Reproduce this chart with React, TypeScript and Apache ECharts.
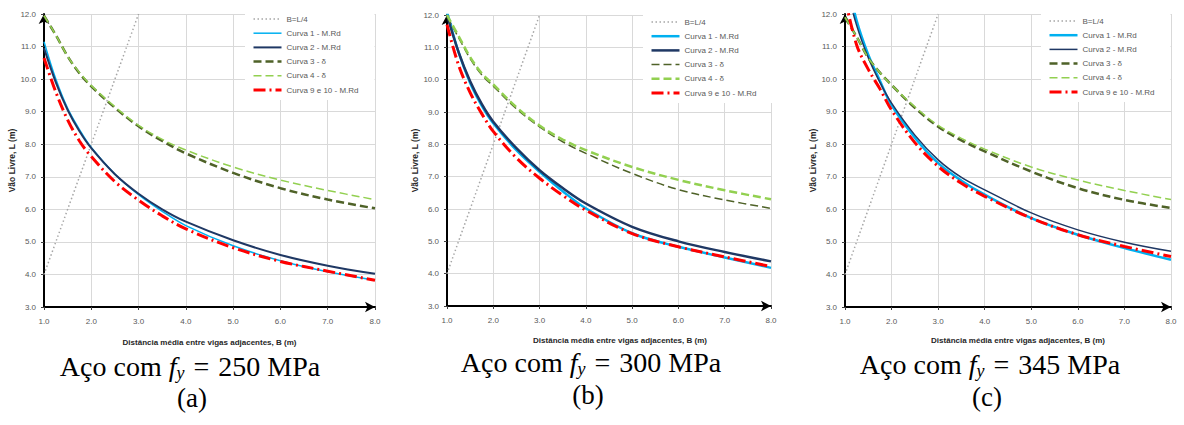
import React, { useEffect, useRef } from 'react';
import * as echarts from 'echarts';

// ---------- data ----------
const B = [1, 1.25, 1.5, 1.75, 2, 2.5, 3, 3.5, 4, 5, 6, 7, 8];
const REF_B = [1, 3];
const REF_L = [4, 12];

// (a) fy = 250 MPa
const A_C1 = [11.15, 10.0, 9.1, 8.45, 7.9, 7.08, 6.45, 5.94, 5.5, 4.88, 4.42, 4.08, 3.82];
const A_C2 = [10.95, 9.9, 9.05, 8.4, 7.88, 7.08, 6.48, 6.0, 5.62, 5.05, 4.6, 4.27, 4.02];
const A_C3 = [11.95, 11.35, 10.7, 10.18, 9.78, 9.12, 8.55, 8.1, 7.72, 7.12, 6.65, 6.3, 6.03];
const A_C4 = [11.95, 11.35, 10.7, 10.2, 9.8, 9.15, 8.58, 8.15, 7.82, 7.3, 6.9, 6.58, 6.3];
const A_C910 = [10.65, 9.6, 8.75, 8.1, 7.62, 6.85, 6.28, 5.8, 5.4, 4.82, 4.4, 4.1, 3.82];

// (b) fy = 300 MPa
const B_C1 = [12.1, 10.85, 9.9, 9.2, 8.65, 7.82, 7.15, 6.55, 6.02, 5.25, 4.83, 4.5, 4.18];
const B_C2 = [12.0, 10.85, 9.95, 9.25, 8.7, 7.88, 7.2, 6.65, 6.17, 5.45, 5.0, 4.67, 4.38];
const B_C3 = [11.95, 11.3, 10.65, 10.15, 9.8, 9.1, 8.54, 8.08, 7.72, 7.1, 6.6, 6.28, 6.02];
const B_C4 = [12.0, 11.35, 10.7, 10.2, 9.85, 9.15, 8.58, 8.15, 7.82, 7.3, 6.9, 6.58, 6.3];
const B_C910 = [11.7, 10.45, 9.6, 8.95, 8.4, 7.58, 6.95, 6.42, 5.96, 5.24, 4.83, 4.52, 4.22];

// (c) fy = 345 MPa
const C_C1 = [13.3, 11.8, 10.75, 9.95, 9.2, 8.2, 7.42, 6.88, 6.45, 5.73, 5.22, 4.81, 4.45];
const C_C2 = [13.0, 11.65, 10.66, 9.9, 9.26, 8.28, 7.52, 6.98, 6.6, 5.89, 5.37, 4.99, 4.71];
const C_C3 = [11.9, 11.3, 10.65, 10.2, 9.82, 9.12, 8.54, 8.12, 7.78, 7.16, 6.65, 6.29, 6.04];
const C_C4 = [11.9, 11.3, 10.65, 10.2, 9.82, 9.15, 8.58, 8.18, 7.85, 7.3, 6.9, 6.58, 6.3];
const C_C910 = [12.5, 11.05, 10.3, 9.7, 9.05, 8.05, 7.32, 6.8, 6.4, 5.73, 5.22, 4.86, 4.55];

const SERIES_NAMES = ['B=L/4', 'Curva 1 - M.Rd', 'Curva 2 - M.Rd', 'Curva 3 - δ', 'Curva 4 - δ', 'Curva 9 e 10 - M.Rd'];
const X_MIN = 1, X_MAX = 8, X_STEP = 1;
const Y_MIN = 3, Y_MAX = 12, Y_STEP = 1;
const Y_NAME = 'Vão Livre, L (m)';
const X_NAME = 'Distância média entre vigas adjacentes, B (m)';
const FY_VALUES = ['250', '300', '345'];
const PANEL_LETTERS = ['(a)', '(b)', '(c)'];
const PANEL_DATA = [
  [A_C1, A_C2, A_C3, A_C4, A_C910],
  [B_C1, B_C2, B_C3, B_C4, B_C910],
  [C_C1, C_C2, C_C3, C_C4, C_C910],
];

// ---------- styles / layout ----------
const COLORS = ['#A6A6A6', '#00B0F0', '#1F3864', '#4F6228', '#92D050', '#FF0000'];
const DASHES: any[] = [[1.5, 2.5], 'solid', 'solid', [8, 4], [8, 4], [12, 4, 2, 4]];
const WIDTHS = [
  [1.5, 1.5, 2, 2.5, 1.5, 3],
  [1.5, 2.5, 2.5, 1.5, 2.5, 3],
  [1.5, 2.5, 1.5, 2.5, 1.5, 3],
];

const LAYOUT = [
  { left: 44, top: 14, width: 331, height: 293, yNameGap: 26, xNameGap: 31, xShift: 0, legLeft: 245, legTop: 11, subX: 190, subY: 366, letX: 192, letY: 398 },
  { left: 447, top: 15, width: 324, height: 291, yNameGap: 27, xNameGap: 30, xShift: 11, legLeft: 643, legTop: 14, subX: 591, subY: 362, letX: 588, letY: 395 },
  { left: 845, top: 14, width: 326, height: 293, yNameGap: 25, xNameGap: 29, xShift: 10, legLeft: 1041, legTop: 13, subX: 990, subY: 364, letX: 987, letY: 397 },
];

const SANS = 'Liberation Sans';
const SERIF = 'Liberation Serif';

const pairs = (xs: number[], ys: number[]) => xs.map((x, i) => [x, ys[i]]);

function buildOption() {
  const grid: any[] = [];
  const xAxis: any[] = [];
  const yAxis: any[] = [];
  const series: any[] = [];
  const legend: any[] = [];
  const graphic: any[] = [];

  LAYOUT.forEach((L, p) => {
    grid.push({ left: L.left, top: L.top, width: L.width, height: L.height, containLabel: false });
    const axisLine = {
      show: true,
      onZero: false,
      symbol: ['none', 'arrow'],
      symbolSize: [8, 10],
      symbolOffset: [0, 0],
      lineStyle: { color: '#000', width: 2 },
    };
    xAxis.push({
      type: 'value', gridIndex: p, min: X_MIN, max: X_MAX, interval: X_STEP,
      axisLine,
      axisTick: { show: true, length: 3, lineStyle: { color: '#404040', width: 1 } },
      splitLine: { show: true, lineStyle: { color: '#D9D9D9', width: 1 } },
      axisLabel: { formatter: (v: number) => v.toFixed(1), fontSize: 8, color: '#595959', margin: 10, fontFamily: SANS },
      name: X_NAME, nameLocation: 'middle', nameGap: L.xNameGap,
      nameTextStyle: { fontSize: 8, color: '#262626', fontWeight: 'bold', fontFamily: SANS, padding: [0, 0, 0, L.xShift * 2] },
    });
    yAxis.push({
      type: 'value', gridIndex: p, min: Y_MIN, max: Y_MAX, interval: Y_STEP,
      axisLine,
      axisTick: { show: true, length: 3, lineStyle: { color: '#404040', width: 1 } },
      splitLine: { show: true, lineStyle: { color: '#D9D9D9', width: 1 } },
      axisLabel: { formatter: (v: number) => v.toFixed(1), fontSize: 8, color: '#595959', margin: 8, fontFamily: SANS },
      name: Y_NAME, nameLocation: 'middle', nameGap: L.yNameGap, nameRotate: 90,
      nameTextStyle: { fontSize: 8.5, color: '#262626', fontWeight: 'bold', fontFamily: SANS },
    });

    const ys = PANEL_DATA[p];
    const seriesData = [pairs(REF_B, REF_L), ...ys.map((arr) => pairs(B, arr))];
    seriesData.forEach((d, k) => {
      series.push({
        type: 'line', name: SERIES_NAMES[k], xAxisIndex: p, yAxisIndex: p,
        data: d, symbol: 'none', showSymbol: false, smooth: k === 0 ? false : 0.35, clip: true,
        lineStyle: { color: COLORS[k], width: WIDTHS[p][k], type: DASHES[k] },
        itemStyle: { color: COLORS[k] },
        z: 2 + k,
      });
    });

    legend.push({
      orient: 'vertical', left: L.legLeft, top: L.legTop,
      itemWidth: 28, itemHeight: 10, itemGap: 6.2,
      backgroundColor: '#fff', padding: [4, 16, 6, 7],
      textStyle: { fontSize: 8, color: '#595959', fontFamily: SANS },
      selectedMode: false,
      itemStyle: { opacity: 0, borderWidth: 0 },
      data: SERIES_NAMES.map((n, k) => ({
        name: n,
        lineStyle: { color: COLORS[k], width: WIDTHS[p][k], type: DASHES[k] },
        itemStyle: { color: 'rgba(0,0,0,0)', opacity: 0, borderWidth: 0 },
      })),
    });

    graphic.push({
      type: 'text', x: L.subX, y: L.subY,
      style: {
        text: `{n|Aço com }{f|f}{s|y}{e|=}{n|${FY_VALUES[p]} MPa}`,
        align: 'center', verticalAlign: 'middle',
        rich: {
          n: { fontFamily: SERIF, fontSize: 28, color: '#000', lineHeight: 32, verticalAlign: 'middle' },
          e: { fontFamily: SERIF, fontSize: 28, color: '#000', lineHeight: 32, verticalAlign: 'middle', padding: [0, 9, 0, 9] },
          f: { fontFamily: SERIF, fontSize: 28, color: '#000', fontStyle: 'italic', lineHeight: 32, verticalAlign: 'middle' },
          s: { fontFamily: SERIF, fontSize: 18, color: '#000', fontStyle: 'italic', lineHeight: 14, verticalAlign: 'bottom' },
        },
      },
    });
    graphic.push({
      type: 'text', x: L.letX, y: L.letY,
      style: { text: PANEL_LETTERS[p], align: 'center', verticalAlign: 'middle', fontFamily: SERIF, fontSize: 27, fill: '#000' },
    });
  });

  return { animation: false, backgroundColor: '#fff', grid, xAxis, yAxis, series, legend, graphic };
}

export default function App() {
  const ref = useRef<HTMLDivElement>(null);
  useEffect(() => {
    document.body.style.margin = '0';
    if (!ref.current) return;
    const chart = echarts.init(ref.current, null, { renderer: 'svg' });
    chart.setOption(buildOption() as any);
    return () => chart.dispose();
  }, []);
  return <div ref={ref} style={{ position: 'absolute', left: 0, top: 0, width: 1184, height: 425 }} />;
}
